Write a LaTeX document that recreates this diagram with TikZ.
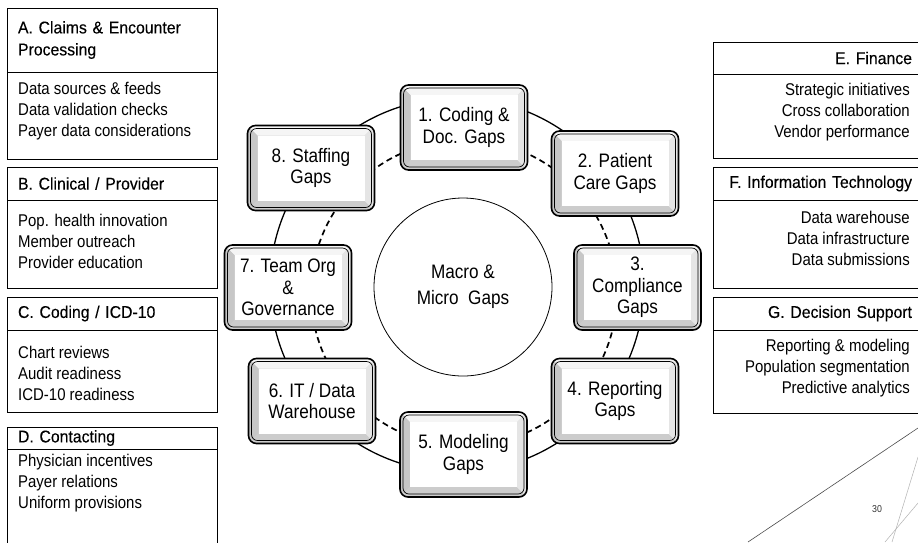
\documentclass[tikz,border=0pt]{standalone}
\usepackage{fontspec}
\setmainfont{Liberation Sans}[FakeStretch=0.88]
\newfontfamily\headfont{Liberation Sans}[FakeStretch=0.93, FakeBold=0.2]
\usetikzlibrary{calc}

% soft grey rim for the central disc
\pgfdeclareradialshading{bubble}{\pgfpoint{0bp}{0bp}}{color(0bp)=(white); color(38bp)=(white); color(50bp)=(black!20)}

\tikzset{
  panel/.style={draw=black, line width=0.9pt, fill=white, anchor=north west,
    inner sep=0pt, outer sep=0pt},
  lhead/.style={panel, font=\headfont\fontsize{17}{22}\selectfont,
    inner xsep=11pt, text width=188pt, align=left},
  rhead/.style={panel, font=\headfont\fontsize{17}{22}\selectfont,
    inner xsep=9pt, text width=190pt, align=right},
  lbody/.style={panel, minimum width=210pt},
  rbody/.style={panel, minimum width=208pt},
  llist/.style={font=\fontsize{17}{21}\selectfont, inner sep=0pt, align=left, anchor=west},
  rlist/.style={font=\fontsize{17}{21}\selectfont, inner sep=0pt, align=right, anchor=east},
  gapbox/.style={rounded corners=8pt, draw=black, line width=1.6pt,
    minimum width=127pt, minimum height=85pt, inner sep=2pt,
    align=center, font=\fontsize{19.5}{21.7}\selectfont,
    path picture={
      \fill[sharp corners, black!14] (path picture bounding box.south west) rectangle (path picture bounding box.north east);
      \fill[sharp corners, black!4] (path picture bounding box.north west) -- (path picture bounding box.north east)
        -- ([shift={(-10pt,-10pt)}]path picture bounding box.north east) -- ([shift={(10pt,-10pt)}]path picture bounding box.north west) -- cycle;
      \fill[sharp corners, black!22] (path picture bounding box.north west) -- ([shift={(10pt,-10pt)}]path picture bounding box.north west)
        -- ([shift={(10pt,10pt)}]path picture bounding box.south west) -- (path picture bounding box.south west) -- cycle;
      \fill[sharp corners, black!20] (path picture bounding box.south west) -- ([shift={(10pt,10pt)}]path picture bounding box.south west)
        -- ([shift={(-10pt,10pt)}]path picture bounding box.south east) -- (path picture bounding box.south east) -- cycle;
      \fill[sharp corners, black!10] (path picture bounding box.south east) -- ([shift={(-10pt,10pt)}]path picture bounding box.south east)
        -- ([shift={(-10pt,-10pt)}]path picture bounding box.north east) -- (path picture bounding box.north east) -- cycle;
      \fill[sharp corners, white] ([shift={(10pt,-10pt)}]path picture bounding box.north west)
        rectangle ([shift={(-10pt,10pt)}]path picture bounding box.south east);
      \draw[rounded corners=6pt, line width=0.7pt]
        ([shift={(3pt,-3pt)}]path picture bounding box.north west)
        rectangle ([shift={(-3pt,3pt)}]path picture bounding box.south east);
    }},
  ring/.style={line width=1.3pt},
  dashring/.style={line width=1.7pt, dash pattern=on 6pt off 4pt},
}

\begin{document}
\begin{tikzpicture}[x=1pt, y=-1pt]
\useasboundingbox (0,0) rectangle (918,542);
\fill[white] (0,0) rectangle (918,542);

% ---- left-hand panels ----
\node[lhead, minimum height=64pt] (aHead) at (7,8) {A. Claims \& Encounter\\Processing};
\node[lbody, minimum height=87pt] (aBody) at (7,72) {};
\node[llist] (aList) at (18,111) {Data sources \& feeds\\Data validation checks\\Payer data considerations};

\node[lhead, minimum height=33pt] (bHead) at (7,167) {B. Clinical / Provider};
\node[lbody, minimum height=88pt] (bBody) at (7,200) {};
\node[llist] (bList) at (18,241) {Pop. health innovation\\Member outreach\\Provider education};

\node[lhead, minimum height=33pt] (cHead) at (7,297) {C. Coding / ICD-10};
\node[lbody, minimum height=82pt] (cBody) at (7,330) {};
\node[llist] (cList) at (18,373) {Chart reviews\\Audit readiness\\ICD-10 readiness};

\node[lhead, minimum height=22pt] (dHead) at (7,427) {D. Contacting};
\node[lbody, minimum height=110pt] (dBody) at (7,449) {};
\node[llist] (dList) at (18,483) {Physician incentives\\Payer relations\\Uniform provisions};

% ---- right-hand panels ----
\node[rhead, minimum height=32pt] (eHead) at (713,42) {E. Finance};
\node[rbody, minimum height=84pt] (eBody) at (713,74) {};
\node[rlist] (eList) at (910,112) {Strategic initiatives\\Cross collaboration\\Vendor performance};

\node[rhead, minimum height=33pt] (fHead) at (713,167) {F. Information Technology};
\node[rbody, minimum height=88pt] (fBody) at (713,200) {};
\node[rlist] (fList) at (910,238) {Data warehouse\\Data infrastructure\\Data submissions};

\node[rhead, minimum height=33pt] (gHead) at (713,297) {G. Decision Support};
\node[rbody, minimum height=83pt] (gBody) at (713,330) {};
\node[rlist] (gList) at (910,368) {Reporting \& modeling\\Population segmentation\\Predictive analytics};

% ---- rings linking the gap boxes ----
\draw[ring] (457,285) circle[radius=187];
\draw[dashring] (464,293) circle[radius=153];

% ---- centre ----
\node[circle, draw=black, line width=0.8pt, minimum size=178pt, shading=bubble,
  align=center, font=\fontsize{19.5}{26}\selectfont] (core) at (463,287) {Macro \&\\Micro\ \ Gaps};

% ---- gap boxes ----
\node[gapbox] (g1) at (464,127.5) {1. Coding \&\\Doc. Gaps};
\node[gapbox] (g2) at (615,173.5) {2. Patient\\Care Gaps};
\node[gapbox] (g3) at (637.5,287.5) {3.\\Compliance\\Gaps};
\node[gapbox] (g4) at (615,401) {4. Reporting\\Gaps};
\node[gapbox] (g5) at (463.5,454.5) {5. Modeling\\Gaps};
\node[gapbox] (g6) at (312,401) {6. IT / Data\\Warehouse};
\node[gapbox] (g7) at (288,287.5) {7. Team Org\\\&\\Governance};
\node[gapbox] (g8) at (311,168) {8. Staffing\\Gaps};

% ---- page corner ----
\draw[black!70, line width=0.6pt] (748,542) -- (918,428);
\draw[black!30, line width=0.5pt] (918,457) -- (892,542);
\draw[black!30, line width=0.5pt] (918,503) -- (885,542);
\node[font=\fontsize{10}{12}\selectfont, text=black!80] (pageno) at (877,509) {30};
\end{tikzpicture}
\end{document}
